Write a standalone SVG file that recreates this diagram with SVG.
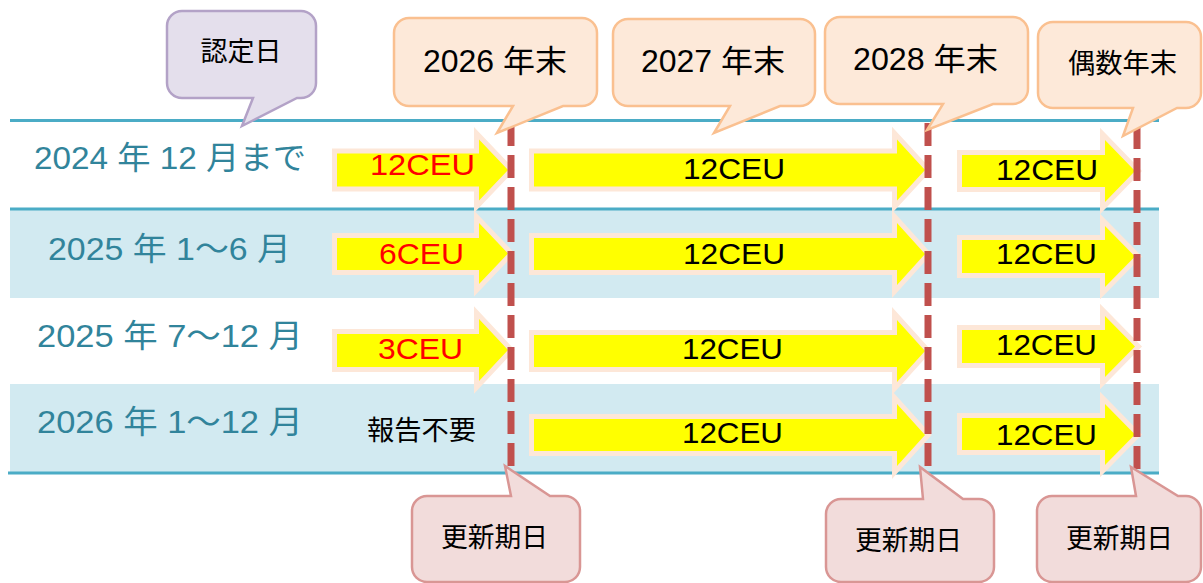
<svg xmlns="http://www.w3.org/2000/svg" width="1203" height="583" viewBox="0 0 1203 583">
<style>
.band{fill:#D2EAF1}
.hl{stroke:#4BACC6;stroke-width:3;fill:none}
.arr{fill:#FFFF00;stroke:#FDE7D8;stroke-width:10;stroke-linejoin:miter;paint-order:stroke}
.dash{stroke:#C0504D;stroke-width:7;stroke-dasharray:23 9;fill:none}
.lbl{font-family:"Liberation Sans","Noto Sans CJK JP",sans-serif;fill:#31849B;font-size:32px}
.ceu{font-family:"Liberation Sans","Noto Sans CJK JP",sans-serif;fill:#000;font-size:30px}
.red{fill:#FF0000}
.jp{font-family:"Noto Sans CJK JP",sans-serif;fill:#000;font-size:27px}
.num{font-family:"Liberation Sans","Noto Sans CJK JP",sans-serif;fill:#000;font-size:31px}
.lav{fill:#E4DFEC;stroke:#B3A2C7;stroke-width:2.5}
.peach{fill:#FDE9D9;stroke:#FAC090;stroke-width:2.5}
.pink{fill:#F2DCDB;stroke:#D99694;stroke-width:2.5}
</style>
<g id="table">
<rect class="band" x="10" y="209" width="1149" height="89"/>
<rect class="band" x="10" y="384" width="1149" height="89"/>
<line class="hl" x1="10" y1="120.5" x2="1159" y2="120.5"/>
<line class="hl" x1="10" y1="209" x2="1159" y2="209"/>
<line class="hl" x1="8" y1="473" x2="1159" y2="473"/>
</g>
<g id="row-labels">
<text class="lbl" x="34" y="169" textLength="272" lengthAdjust="spacingAndGlyphs">2024 年 12 月まで</text>
<text class="lbl" x="48" y="260" textLength="243" lengthAdjust="spacingAndGlyphs">2025 年 1〜6 月</text>
<text class="lbl" x="37" y="347" textLength="266" lengthAdjust="spacingAndGlyphs">2025 年 7〜12 月</text>
<text class="lbl" x="37" y="433" textLength="266" lengthAdjust="spacingAndGlyphs">2026 年 1〜12 月</text>
</g>
<g id="arrows">
<path class="arr" d="M337,153.5 H479 V139.5 L508,170 L479,200.5 V186.5 H337 Z"/>
<path class="arr" d="M534,153.5 H897 V139.5 L925,170 L897,200.5 V186.5 H534 Z"/>
<path class="arr" d="M962,155 H1105 V140 L1135,171 L1105,202 V187 H962 Z"/>
<path class="arr" d="M337,238 H479 V223 L508,253.5 L479,284 V270 H337 Z"/>
<path class="arr" d="M534,238 H897 V223 L925,254 L897,285 V270 H534 Z"/>
<path class="arr" d="M962,240 H1105 V226 L1135,256.5 L1105,287 V273 H962 Z"/>
<path class="arr" d="M337,334 H479 V319 L508,350 L479,381 V367 H337 Z"/>
<path class="arr" d="M534,335 H897 V320 L925,351 L897,382 V367 H534 Z"/>
<path class="arr" d="M962,330 H1105 V316 L1135,346.5 L1105,377 V363 H962 Z"/>
<path class="arr" d="M534,419 H897 V404 L925,435 L897,466 V451 H534 Z"/>
<path class="arr" d="M962,418 H1105 V404 L1135,434.5 L1105,465 V450 H962 Z"/>
</g>
<g id="arrow-labels">
<text class="ceu red" x="370" y="175" textLength="105" lengthAdjust="spacingAndGlyphs">12CEU</text>
<text class="ceu red" x="379" y="264" textLength="85" lengthAdjust="spacingAndGlyphs">6CEU</text>
<text class="ceu red" x="378" y="359" textLength="85" lengthAdjust="spacingAndGlyphs">3CEU</text>
<text class="jp" x="367" y="440" textLength="109" lengthAdjust="spacingAndGlyphs">報告不要</text>
<text class="ceu" x="683" y="179" textLength="102" lengthAdjust="spacingAndGlyphs">12CEU</text>
<text class="ceu" x="683" y="264" textLength="102" lengthAdjust="spacingAndGlyphs">12CEU</text>
<text class="ceu" x="682" y="359" textLength="101" lengthAdjust="spacingAndGlyphs">12CEU</text>
<text class="ceu" x="682" y="443" textLength="101" lengthAdjust="spacingAndGlyphs">12CEU</text>
<text class="ceu" x="996" y="180" textLength="102" lengthAdjust="spacingAndGlyphs">12CEU</text>
<text class="ceu" x="996" y="264" textLength="101" lengthAdjust="spacingAndGlyphs">12CEU</text>
<text class="ceu" x="996" y="355" textLength="101" lengthAdjust="spacingAndGlyphs">12CEU</text>
<text class="ceu" x="996" y="445" textLength="101" lengthAdjust="spacingAndGlyphs">12CEU</text>
</g>
<g id="connectors">
<line class="dash" x1="511" y1="123" x2="511" y2="466"/>
<line class="dash" x1="928" y1="123" x2="928" y2="466"/>
<line class="dash" x1="1137" y1="126" x2="1137" y2="470"/>
</g>
<g id="callout-nintei">
<path class="lav" d="M182,11 H301 A15,15 0 0 1 316,26 V83 A15,15 0 0 1 301,98 H297 L242,126 L253,98 H182 A15,15 0 0 1 167,83 V26 A15,15 0 0 1 182,11 Z"/>
<text class="jp" x="241" y="61" text-anchor="middle" font-size="26">認定日</text>
</g>
<g id="callout-2026">
<path class="peach" d="M409,18 H582 A15,15 0 0 1 597,33 V91 A15,15 0 0 1 582,106 H563 L497,133 L513,106 H409 A15,15 0 0 1 394,91 V33 A15,15 0 0 1 409,18 Z"/>
<text class="num" x="423" y="72" textLength="144" lengthAdjust="spacingAndGlyphs">2026 年末</text>
</g>
<g id="callout-2027">
<path class="peach" d="M628,19 H800 A15,15 0 0 1 815,34 V91 A15,15 0 0 1 800,106 H780 L714,133 L730,106 H628 A15,15 0 0 1 613,91 V34 A15,15 0 0 1 628,19 Z"/>
<text class="num" x="641" y="72" textLength="144" lengthAdjust="spacingAndGlyphs">2027 年末</text>
</g>
<g id="callout-2028">
<path class="peach" d="M840,17 H1013 A15,15 0 0 1 1028,32 V89 A15,15 0 0 1 1013,104 H993 L927,130 L943,104 H840 A15,15 0 0 1 825,89 V32 A15,15 0 0 1 840,17 Z"/>
<text class="num" x="853" y="70" textLength="145" lengthAdjust="spacingAndGlyphs">2028 年末</text>
</g>
<g id="callout-even">
<path class="peach" d="M1053,22 H1186 A15,15 0 0 1 1201,37 V93 A15,15 0 0 1 1186,108 H1177 L1123,136 L1133,108 H1053 A15,15 0 0 1 1038,93 V37 A15,15 0 0 1 1053,22 Z"/>
<text class="jp" x="1068" y="73" textLength="109" lengthAdjust="spacingAndGlyphs">偶数年末</text>
</g>
<g id="callout-renew-1">
<path class="pink" d="M427,496 H511 L505,466 L550,496 H565 A15,15 0 0 1 580,511 V567 A15,15 0 0 1 565,582 H427 A15,15 0 0 1 412,567 V511 A15,15 0 0 1 427,496 Z"/>
<text class="jp" x="441" y="547" textLength="107" lengthAdjust="spacingAndGlyphs">更新期日</text>
</g>
<g id="callout-renew-2">
<path class="pink" d="M841,499 H923 L920,467 L963,499 H979 A15,15 0 0 1 994,514 V567 A15,15 0 0 1 979,582 H841 A15,15 0 0 1 826,567 V514 A15,15 0 0 1 841,499 Z"/>
<text class="jp" x="855" y="550" textLength="107" lengthAdjust="spacingAndGlyphs">更新期日</text>
</g>
<g id="callout-renew-3">
<path class="pink" d="M1052,496 H1136 L1131,467 L1178,496 H1186 A15,15 0 0 1 1201,511 V567 A15,15 0 0 1 1186,582 H1052 A15,15 0 0 1 1037,567 V511 A15,15 0 0 1 1052,496 Z"/>
<text class="jp" x="1066" y="548" textLength="107" lengthAdjust="spacingAndGlyphs">更新期日</text>
</g>
</svg>
